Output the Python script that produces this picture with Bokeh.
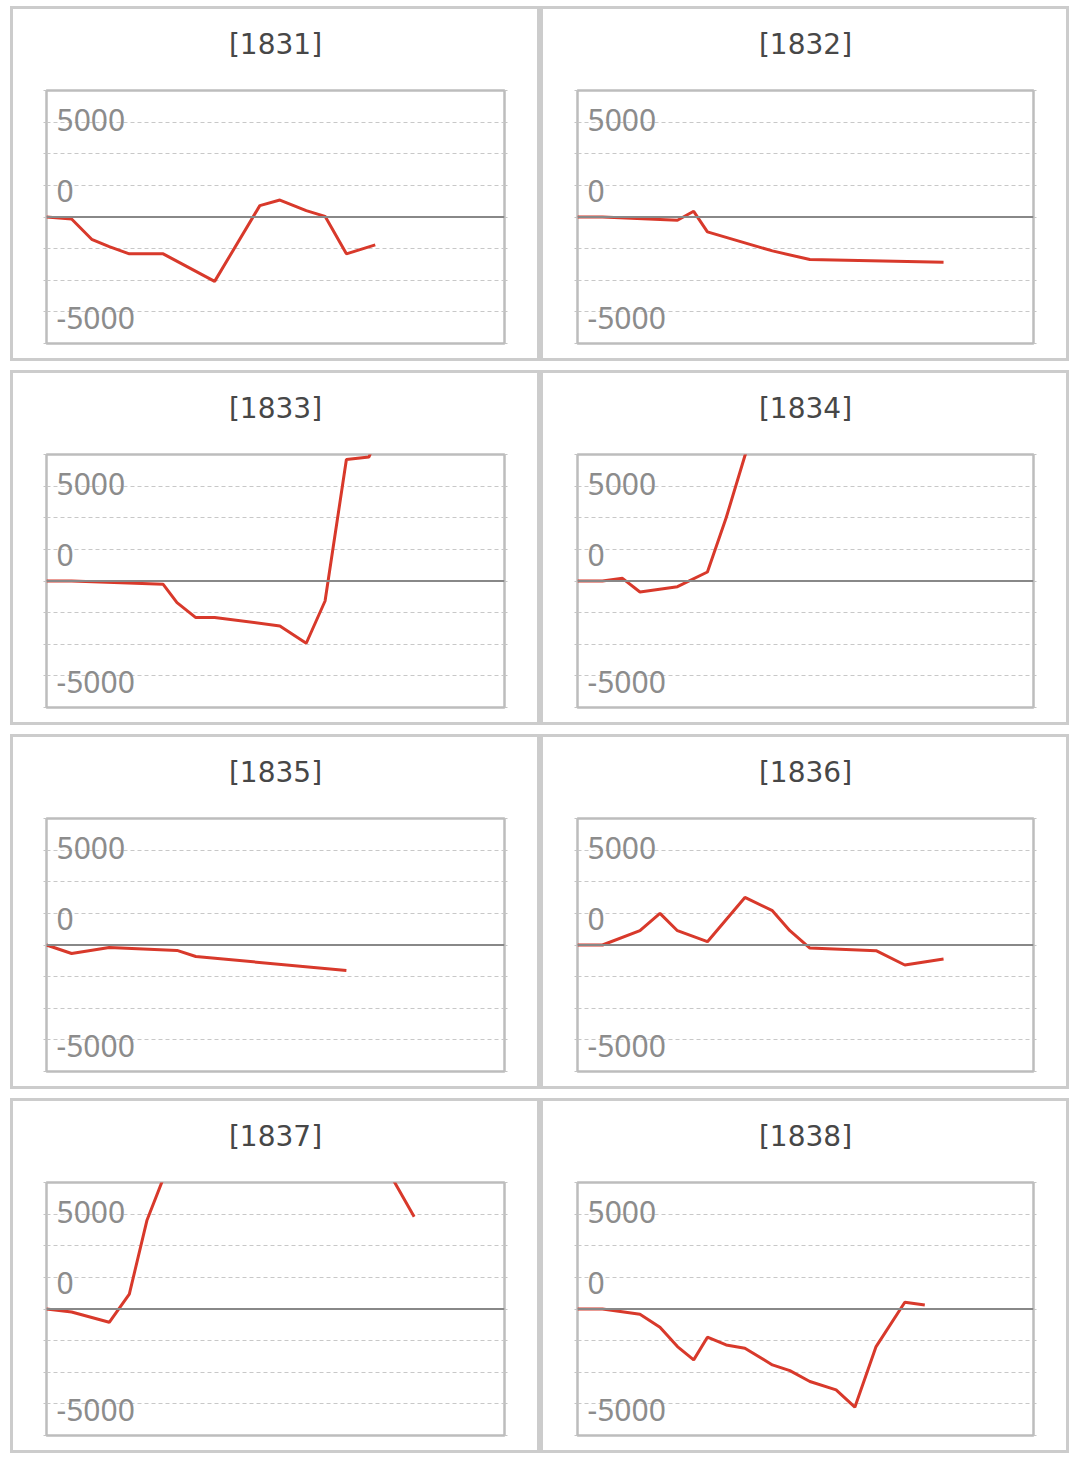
from bokeh.plotting import figure
from bokeh.layouts import column, row
from bokeh.models import Range1d, Span, Label, LinearAxis, FixedTicker, Grid, Spacer, Title
from bokeh.embed import file_html
from bokeh.resources import INLINE

years = ["1831", "1832", "1833", "1834", "1835", "1836", "1837", "1838"]

days_1831 = [0, 20, 36, 50, 66, 93, 134, 170, 186, 207, 222, 239, 262]
vals_1831 = [0, -160, -1760, -2340, -2910, -2910, -5090, 900, 1340, 500, 50, -2910, -2200]
days_1832 = [0, 20, 80, 93, 104, 156, 186, 293]
vals_1832 = [0, 0, -260, 450, -1180, -2680, -3360, -3570]
days_1833 = [0, 20, 93, 104, 119, 134, 186, 207, 222, 239, 257, 270]
vals_1833 = [0, 0, -260, -1710, -2890, -2890, -3550, -4920, -1580, 9600, 9800, 13000]
days_1834 = [0, 20, 36, 50, 80, 104, 119, 134, 156]
vals_1834 = [0, 0, 210, -870, -450, 710, 5000, 9900, 16000]
days_1835 = [0, 20, 50, 104, 119, 239]
vals_1835 = [0, -670, -200, -430, -910, -2010]
days_1836 = [0, 20, 50, 66, 80, 104, 134, 156, 170, 186, 239, 262, 293]
vals_1836 = [0, 0, 1130, 2500, 1130, 260, 3760, 2710, 1130, -240, -450, -1580, -1100]
days_1837 = [0, 20, 50, 66, 80, 93, 262, 293]
vals_1837 = [0, -240, -1050, 1180, 6990, 10300, 12700, 7300]
days_1838 = [0, 20, 50, 66, 80, 93, 104, 119, 134, 156, 170, 186, 207, 222, 239, 262, 278]
vals_1838 = [0, 0, -420, -1440, -2970, -4020, -2230, -2840, -3100, -4420, -4870,
             -5730, -6390, -7760, -2970, 530, 320]

series_days = [days_1831, days_1832, days_1833, days_1834, days_1835, days_1836, days_1837, days_1838]
series_vals = [vals_1831, vals_1832, vals_1833, vals_1834, vals_1835, vals_1836, vals_1837, vals_1838]

ytick_text = ["5000", "0", "-5000"]
tick_levels = [-10000, -7500, -5000, -2500, 0, 2500, 5000, 7500, 10000]
grid_levels = [-7500, -5000, -2500, 2500, 5000, 7500]

# label placement (data units, text centre)
LABEL_Y = [7700, 2040, -8000]


def make_panel(year, days, vals, col):
    W = 530 if col == 0 else 529
    H = 355
    left = 36 if col == 0 else 37
    fw = 458 if col == 0 else 456
    right = W - left - fw
    top = 84
    fh = 253
    bottom = H - top - fh
    p = figure(width=W, height=H, x_range=Range1d(0, 365), y_range=Range1d(-10000, 10000),
               output_backend="svg", toolbar_location=None,
               x_axis_location=None, y_axis_location=None,
               min_border_left=left, min_border_right=right,
               min_border_top=top, min_border_bottom=bottom,
               outline_line_color="#bdbdbd", outline_line_width=2.5,
               background_fill_color="white", border_fill_color=None, border_fill_alpha=0)
    p.xgrid.visible = False
    p.ygrid.visible = False
    p.title.text = "[" + year + "]"
    p.title.align = "center"
    p.title.vertical_align = "top"
    p.title.standoff = 10
    p.title.text_font = "DejaVu Sans"
    p.title.text_font_size = "28px"
    p.title.text_font_style = "normal"
    p.title.text_color = "#474747"
    # blank spacer between title and plot frame
    p.add_layout(Title(text=" ", text_font_size="10px", standoff=10), "above")
    p.styles = {"outline": "3px solid #cccccc", "outline-offset": "-3px"}
    for side in ("left", "right"):
        ax = LinearAxis(ticker=FixedTicker(ticks=tick_levels), axis_line_color=None,
                        major_tick_line_color="#c4c4c4", major_tick_in=0, major_tick_out=3,
                        minor_tick_line_color=None)
        ax.major_label_overrides = {t: "" for t in tick_levels}
        p.add_layout(ax, side)
    p.add_layout(Grid(dimension=1, ticker=FixedTicker(ticks=grid_levels),
                      grid_line_color="#c8c8c8", grid_line_dash="4 3", grid_line_width=1))
    p.add_layout(Span(location=0, dimension="width", line_color="#888888", line_width=2.2))
    p.line(days, vals, line_color="#d8392b", line_width=3)
    for txt, yy in zip(ytick_text, LABEL_Y):
        p.add_layout(Label(x=0, y=yy, x_offset=10, text=txt, text_font="Noto Sans",
                           text_font_size="30px", text_color="#8c8c8c",
                           text_baseline="middle", text_align="left"))
    return p


figs = [make_panel(yr, series_days[i], series_vals[i], i % 2) for i, yr in enumerate(years)]

rows = [Spacer(height=6)]
for r in range(4):
    rows.append(row(Spacer(width=10), figs[2 * r], figs[2 * r + 1]))
    if r < 3:
        rows.append(Spacer(height=9))
layout = column(*rows)
open("out.html", "w").write(file_html(layout, INLINE))
